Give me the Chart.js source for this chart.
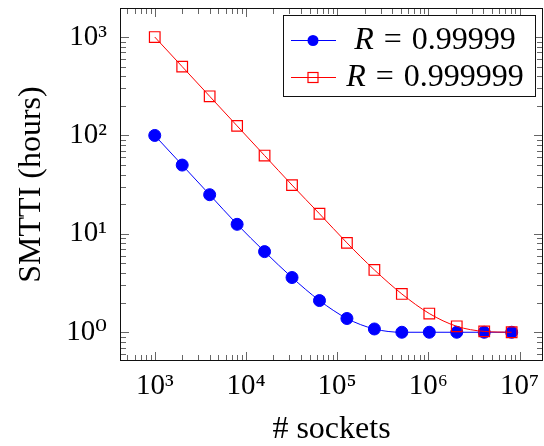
<!DOCTYPE html>
<html>
<head>
<meta charset="utf-8">
<script src="https://cdn.jsdelivr.net/npm/chart.js@4"></script>
<style>
  html, body { margin: 0; padding: 0; background: #fff; }
  canvas { display: block; }
</style>
</head>
<body>
<canvas id="chart" width="544" height="446"></canvas>
<script>
// number of sockets (x) and SMTTI in hours for the two reliabilities
const sockets = [1000, 2000, 4000, 8000, 16000, 32000, 64000, 128000, 256000, 512000, 1024000, 2048000, 4096000, 8192000];
const smttiR5 = [100, 50, 25, 12.5, 6.6, 3.6, 2.1, 1.38, 1.08, 1.0, 1.0, 1.0, 1.0, 1.0];
const smttiR6 = [1000, 500, 250, 125, 62.5, 31.3, 16, 8.1, 4.3, 2.45, 1.55, 1.15, 1.02, 1.0];
const seriesNames = ['0.99999', '0.999999'];

const xTickValues = [1e3, 1e4, 1e5, 1e6, 1e7];
const xTickLabels = ['10³', '10⁴', '10⁵', '10⁶', '10⁷'];
const yTickValues = [1, 10, 100, 1000];
const yTickLabels = ['10⁰', '10¹', '10²', '10³'];

const FONT = "'Liberation Serif', 'DejaVu Serif', serif";

function labelFor(values, labels) {
  return v => {
    const i = values.findIndex(t => Math.abs(t - v) / t < 1e-9);
    return i >= 0 ? labels[i] : '';
  };
}

// pgfplots-like frame with inward major/minor ticks on all four sides
const frameTicks = {
  id: 'frameTicks',
  afterDraw(chart) {
    const { ctx, chartArea: a, scales } = chart;
    const mant = v => v / Math.pow(10, Math.floor(Math.log10(v) + 1e-9));
    ctx.save();
    ctx.strokeStyle = '#666';
    ctx.lineWidth = 1;
    ctx.beginPath();
    scales.x.ticks.forEach(t => {
      const m = mant(t.value);
      if (Math.abs(m - Math.round(m)) > 1e-6) return;
      const len = Math.round(m) === 1 ? 9 : 6;
      const x = Math.round(scales.x.getPixelForValue(t.value)) + 0.5;
      ctx.moveTo(x, a.bottom); ctx.lineTo(x, a.bottom - len);
      ctx.moveTo(x, a.top); ctx.lineTo(x, a.top + len);
    });
    scales.y.ticks.forEach(t => {
      const m = mant(t.value);
      if (Math.abs(m - Math.round(m)) > 1e-6) return;
      const len = Math.round(m) === 1 ? 9 : 6;
      const y = Math.round(scales.y.getPixelForValue(t.value)) + 0.5;
      ctx.moveTo(a.left, y); ctx.lineTo(a.left + len, y);
      ctx.moveTo(a.right, y); ctx.lineTo(a.right - len, y);
    });
    ctx.stroke();
    ctx.strokeStyle = '#111';
    ctx.strokeRect(Math.round(a.left) + 0.5, Math.round(a.top) + 0.5,
      Math.round(a.right - a.left) - 1, Math.round(a.bottom - a.top) - 1);

    // legend box
    const box = { l: 283, t: 15, r: 536, b: 97 };
    ctx.fillStyle = '#fff';
    ctx.fillRect(box.l, box.t, box.r - box.l, box.b - box.t);
    ctx.strokeStyle = '#111';
    ctx.strokeRect(box.l + 0.5, box.t + 0.5, box.r - box.l - 1, box.b - box.t - 1);

    const rows = [40, 77];
    chart.data.datasets.forEach((ds, i) => {
      const y = rows[i];
      ctx.strokeStyle = ds.borderColor;
      ctx.lineWidth = 1;
      ctx.beginPath();
      ctx.moveTo(291, y + 0.5); ctx.lineTo(336, y + 0.5);
      ctx.stroke();
      if (ds.pointStyle === 'circle') {
        ctx.fillStyle = ds.borderColor;
        ctx.beginPath(); ctx.arc(313, y + 0.5, 5.5, 0, Math.PI * 2); ctx.fill();
      } else {
        ctx.lineWidth = 1.2;
        ctx.strokeRect(308, y - 4.5, 10, 10);
      }
      // "R = value" with italic R
      ctx.fillStyle = '#000';
      ctx.textBaseline = 'middle';
      ctx.font = 'italic 32px ' + FONT;
      const wR = ctx.measureText('R').width;
      ctx.font = '32px ' + FONT;
      const wEq = ctx.measureText('=').width;
      const wNum = ctx.measureText(seriesNames[i]).width;
      const gap = 10;
      const total = wR + gap + wEq + gap + wNum;
      let x = 435 - total / 2;
      ctx.textAlign = 'left';
      ctx.font = 'italic 32px ' + FONT;
      ctx.fillText('R', x, y + 1);
      x += wR + gap;
      ctx.font = '32px ' + FONT;
      ctx.fillText('=', x, y + 1);
      x += wEq + gap;
      ctx.fillText(seriesNames[i], x, y + 1);
    });
    ctx.restore();
  }
};

new Chart(document.getElementById('chart'), {
  type: 'line',
  data: {
    datasets: [{
      label: 'R = ' + seriesNames[0],
      data: sockets.map((s, i) => ({ x: s, y: smttiR5[i] })),
      borderColor: '#0000ff',
      backgroundColor: '#0000ff',
      borderWidth: 1,
      pointStyle: 'circle',
      pointRadius: 6,
      pointBackgroundColor: '#0000ff',
      pointBorderColor: '#0000ff',
      cubicInterpolationMode: 'monotone',
      order: 1
    }, {
      label: 'R = ' + seriesNames[1],
      data: sockets.map((s, i) => ({ x: s, y: smttiR6[i] })),
      borderColor: '#ff0000',
      backgroundColor: 'rgba(255,255,255,0)',
      borderWidth: 1,
      pointStyle: 'rect',
      pointRadius: 7.5,
      pointBorderWidth: 1.2,
      pointBackgroundColor: 'rgba(255,255,255,0)',
      pointBorderColor: '#ff0000',
      cubicInterpolationMode: 'monotone',
      order: 0
    }]
  },
  options: {
    responsive: false,
    animation: false,
    layout: { autoPadding: false, padding: { top: 8, right: 1, left: 0, bottom: 0 } },
    plugins: { legend: { display: false }, tooltip: { enabled: false } },
    scales: {
      x: {
        type: 'logarithmic',
        min: Math.pow(10, 2.619),
        max: Math.pow(10, 7.257),
        grid: { display: false, drawTicks: false },
        border: { display: false },
        ticks: {
          autoSkip: false, maxRotation: 0, padding: 8,
          color: '#000', font: { family: FONT, size: 29 },
          callback: labelFor(xTickValues, xTickLabels)
        },
        title: {
          display: true, text: '# sockets', color: '#000',
          font: { family: FONT, size: 32, lineHeight: 1 },
          padding: { top: 0, bottom: 0 }
        },
        afterFit: s => { s.height = 85; s.paddingLeft = 0; s.paddingRight = 0; }
      },
      y: {
        type: 'logarithmic',
        min: Math.pow(10, -0.292),
        max: Math.pow(10, 3.295),
        grid: { display: false, drawTicks: false },
        border: { display: false },
        ticks: {
          autoSkip: false, padding: 13,
          color: '#000', font: { family: FONT, size: 29 },
          callback: labelFor(yTickValues, yTickLabels)
        },
        title: {
          display: true, text: 'SMTTI (hours)', color: '#000',
          font: { family: FONT, size: 32, lineHeight: 1 },
          padding: { top: 16, bottom: 0 }
        },
        afterFit: s => { s.width = 120; s.paddingTop = 0; s.paddingBottom = 0; }
      }
    }
  },
  plugins: [frameTicks]
});
</script>
</body>
</html>
